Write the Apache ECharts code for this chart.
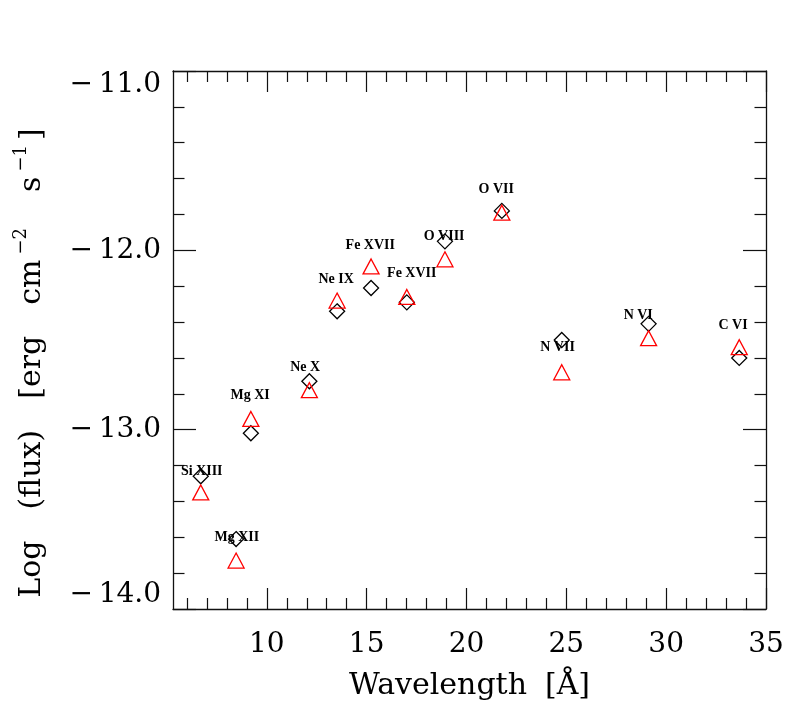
<!DOCTYPE html>
<html>
<head>
<meta charset="utf-8">
<script src="https://cdn.jsdelivr.net/npm/echarts@6/dist/echarts.min.js"></script>
<style>html,body{margin:0;padding:0;background:#fff}#c{width:789px;height:717px}</style>
</head>
<body>
<div id="c"></div>
<script>
// ---- data ----
const lineNames = ["Si XIII","Mg XII","Mg XI","Ne X","Ne IX","Fe XVII","Fe XVII","O VIII","O VII","N VII","N VI","C VI"];
const wavelength = [6.69, 8.46, 9.20, 12.13, 13.52, 15.22, 17.01, 18.92, 21.77, 24.77, 29.12, 33.66];
const fluxDiamond = [-13.26, -13.61, -13.02, -12.73, -12.34, -12.21, -12.29, -11.95, -11.78, -12.50, -12.41, -12.60];
const fluxTriangle = [-13.35, -13.73, -12.94, -12.78, -12.28, -12.09, -12.26, -12.05, -11.79, -12.68, -12.49, -12.54];
const labelX = [6.74, 8.50, 9.16, 11.92, 13.47, 15.18, 17.26, 18.88, 21.49, 24.56, 28.60, 33.35];
const labelY = [-13.23, -13.60, -12.81, -12.65, -12.16, -11.97, -12.13, -11.92, -11.66, -12.54, -12.36, -12.42];
const xMajorTicks = [10, 15, 20, 25, 30, 35];
const xMinorTicks = [6,7,8,9,11,12,13,14,16,17,18,19,21,22,23,24,26,27,28,29,31,32,33,34];
const xMin = 5.3, xMax = 35;
const yMin = -14, yMax = -11;

const chart = echarts.init(document.getElementById('c'), null, {renderer: 'canvas'});
const axisColor = '#111';
const serif = 'DejaVu Serif';

function xAxisDef(pos, ticks, len, withLine, withLabel) {
  return {
    type: 'value', min: xMin, max: xMax, position: pos,
    axisLine: {show: withLine, onZero: false, lineStyle: {color: axisColor, width: 1.3}},
    axisTick: {show: true, inside: true, length: len, customValues: ticks, lineStyle: {color: axisColor, width: 1.2}},
    axisLabel: {show: withLabel, customValues: ticks, fontFamily: serif, fontSize: 28, color: '#000', margin: 22},
    splitLine: {show: false}
  };
}
const xAxes = [
  xAxisDef('bottom', xMajorTicks, 21, true, true),
  xAxisDef('bottom', xMinorTicks, 11, false, false),
  xAxisDef('top', xMajorTicks, 21, true, false),
  xAxisDef('top', xMinorTicks, 11, false, false)
];
xAxes[0].name = '{m|Wavelength}{sp| }{m|[Å]}';
xAxes[0].nameLocation = 'middle';
xAxes[0].nameGap = 62;
xAxes[0].nameTextStyle = {
  rich: {
    m: {fontFamily: serif, fontSize: 30, color: '#000'},
    sp: {fontFamily: serif, fontSize: 30, width: 18}
  }
};

function yAxisDef(pos, withLabel) {
  return {
    type: 'value', min: yMin, max: yMax, interval: 1, position: pos,
    axisLine: {show: true, onZero: false, lineStyle: {color: axisColor, width: 1.3}},
    axisTick: {show: true, inside: true, length: 23, lineStyle: {color: axisColor, width: 1.2}},
    minorTick: {show: true, splitNumber: 5, length: 11.5, lineStyle: {color: axisColor, width: 1.2}},
    axisLabel: {
      show: withLabel, fontFamily: serif, fontSize: 28, color: '#000', margin: 12,
      verticalAlignMinLabel: 'bottom', verticalAlignMaxLabel: 'top',
      formatter: v => (v < 0 ? '\u2212\u2009' : '') + Math.abs(v).toFixed(1)
    },
    splitLine: {show: false}, minorSplitLine: {show: false}
  };
}
const yAxes = [yAxisDef('left', true), yAxisDef('right', false)];
yAxes[0].name = '{m|Log}{sp| }{m|(flux)}{sp| }{m|[erg}{sp| }{m|cm}{s|\u22122}{sp| }{m|s}{s|\u22121}{m|]}';
yAxes[0].nameLocation = 'middle';
yAxes[0].nameRotate = 90;
yAxes[0].nameGap = 126;
yAxes[0].nameTextStyle = {
  padding: [0, 46, 0, 0],
  rich: {
    m: {fontFamily: serif, fontSize: 30, color: '#000', lineHeight: 35, verticalAlign: 'bottom'},
    sp: {fontFamily: serif, fontSize: 30, lineHeight: 35, width: 31, verticalAlign: 'bottom'},
    s: {fontFamily: serif, fontSize: 18, color: '#000', lineHeight: 18, verticalAlign: 'top', padding: [0, 5, 0, 5]}
  }
};

chart.setOption({
  animation: false,
  backgroundColor: '#fff',
  grid: {left: 173, right: 23, top: 71, bottom: 108, containLabel: false},
  xAxis: xAxes,
  yAxis: yAxes,
  series: [
    {
      type: 'scatter', xAxisIndex: 0, yAxisIndex: 0,
      symbol: 'diamond', symbolSize: [15, 15],
      itemStyle: {color: 'transparent', borderColor: '#000', borderWidth: 1.3, opacity: 1},
      data: wavelength.map((x, i) => [x, fluxDiamond[i]]),
      z: 2
    },
    {
      type: 'scatter', xAxisIndex: 0, yAxisIndex: 0,
      symbol: 'triangle', symbolSize: [16, 15],
      itemStyle: {color: 'transparent', borderColor: '#ff0000', borderWidth: 1.3, opacity: 1},
      data: wavelength.map((x, i) => [x, fluxTriangle[i]]),
      z: 3
    },
    {
      type: 'scatter', xAxisIndex: 0, yAxisIndex: 0,
      symbol: 'circle', symbolSize: 1,
      itemStyle: {color: 'transparent', opacity: 1},
      label: {show: true, position: 'inside', formatter: '{b}', fontFamily: 'Liberation Serif', fontWeight: 'bold', fontSize: 14, color: '#000'},
      data: labelX.map((x, i) => ({name: lineNames[i], value: [x, labelY[i]]})),
      z: 4
    }
  ]
});
</script>
</body>
</html>
